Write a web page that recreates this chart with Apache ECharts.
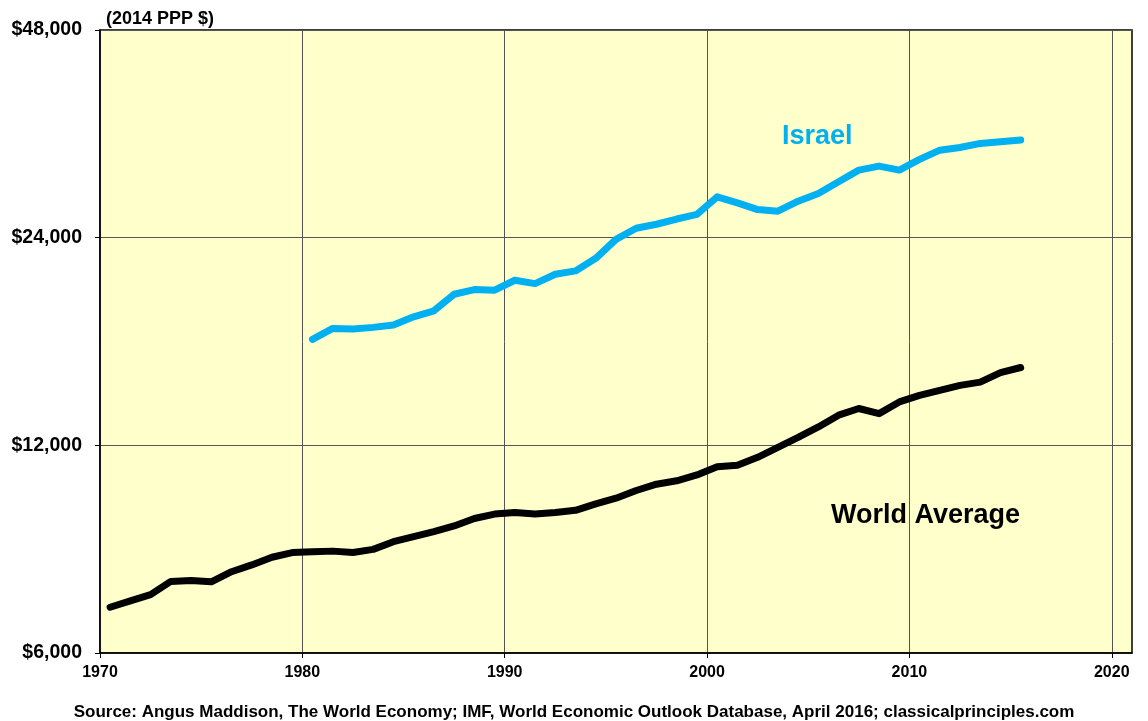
<!DOCTYPE html>
<html>
<head>
<meta charset="utf-8">
<script src="https://cdn.jsdelivr.net/npm/echarts@6/dist/echarts.min.js"></script>
<style>
  html, body { margin: 0; padding: 0; background: #fff; }
  #chart { width: 1148px; height: 721px; }
</style>
</head>
<body>
<div id="chart"></div>
<script>
// 年份（按年中绘制）
var worldYears = [1970, 1971, 1972, 1973, 1974, 1975, 1976, 1977, 1978, 1979,
  1980, 1981, 1982, 1983, 1984, 1985, 1986, 1987, 1988, 1989,
  1990, 1991, 1992, 1993, 1994, 1995, 1996, 1997, 1998, 1999,
  2000, 2001, 2002, 2003, 2004, 2005, 2006, 2007, 2008, 2009,
  2010, 2011, 2012, 2013, 2014, 2015]
var worldValues = [6990, 7140, 7290, 7620, 7640, 7610, 7870, 8050, 8260, 8390,
  8415, 8430, 8390, 8480, 8700, 8850, 9000, 9170, 9400, 9540,
  9590, 9540, 9590, 9660, 9870, 10060, 10320, 10540, 10660, 10870,
  11170, 11230, 11530, 11920, 12320, 12760, 13270, 13570, 13340, 13870,
  14180, 14420, 14660, 14820, 15300, 15560]

var israelYears = [1980, 1981, 1982, 1983, 1984, 1985, 1986, 1987, 1988, 1989,
  1990, 1991, 1992, 1993, 1994, 1995, 1996, 1997, 1998, 1999,
  2000, 2001, 2002, 2003, 2004, 2005, 2006, 2007, 2008, 2009,
  2010, 2011, 2012, 2013, 2014, 2015]
var israelValues = [17090, 17730, 17690, 17790, 17930, 18430, 18800, 19870, 20180, 20140,
  20820, 20590, 21240, 21480, 22400, 23860, 24770, 25100, 25540, 25940,
  27500, 26960, 26360, 26220, 27110, 27820, 28920, 30070, 30480, 30070,
  31170, 32140, 32430, 32870, 33050, 33240]

var yTicks = [6000, 12000, 24000, 48000]
var xTicks = [1970, 1980, 1990, 2000, 2010, 2020]

function pairs (years, values) {
  return years.map(function (y, i) { return [y + 0.5, values[i]] })
}

var font = 'Liberation Sans, Arial, sans-serif'
var myChart = echarts.init(document.getElementById('chart'), null, { renderer: 'canvas' })

myChart.setOption({
  animation: false,
  grid: {
    left: 100,
    right: 16,
    top: 30,
    bottom: 68,
    show: true,
    backgroundColor: '#ffffcc',
    borderColor: '#000',
    borderWidth: 1.5
  },
  title: [
    {
      text: '(2014 PPP $)',
      left: 101,
      top: 5,
      textStyle: { fontFamily: font, fontSize: 18, fontWeight: 'bold', color: '#000' }
    },
    {
      text: 'Source: Angus Maddison, The World Economy; IMF, World Economic Outlook Database, April 2016; classicalprinciples.com',
      left: 'center',
      top: 699,
      textStyle: { fontFamily: font, fontSize: 17, fontWeight: 'bold', color: '#000' }
    }
  ],
  xAxis: {
    type: 'value',
    min: 1970,
    max: 2021,
    axisLine: { show: true, onZero: false, lineStyle: { color: '#000', width: 1.5 } },
    axisTick: { show: true, length: 5, customValues: xTicks, lineStyle: { color: '#000' } },
    axisLabel: {
      customValues: xTicks,
      color: '#000',
      fontFamily: font,
      fontSize: 16,
      fontWeight: 'bold',
      margin: 12,
      formatter: function (v) { return String(v) }
    },
    splitLine: { show: true, lineStyle: { color: '#555', width: 1 } }
  },
  yAxis: {
    type: 'log',
    logBase: 2,
    min: 6000,
    max: 48000,
    axisLine: { show: true, lineStyle: { color: '#000', width: 1.5 } },
    axisTick: { show: true, length: 5, customValues: yTicks, lineStyle: { color: '#000' } },
    axisLabel: {
      customValues: yTicks,
      color: '#000',
      fontFamily: font,
      fontSize: 19.5,
      fontWeight: 'bold',
      margin: 18,
      formatter: function (v) {
        return '$' + Math.round(v).toLocaleString('en-US')
      }
    },
    splitLine: { show: true, lineStyle: { color: '#555', width: 1 } }
  },
  graphic: [
    {
      type: 'text',
      left: 782,
      top: 123,
      style: { text: 'Israel', fill: '#00b0f0', font: 'bold 27px ' + font }
    },
    {
      type: 'text',
      left: 831,
      top: 502,
      style: { text: 'World Average', fill: '#000', font: 'bold 27px ' + font }
    }
  ],
  series: [
    {
      name: 'Israel',
      type: 'line',
      data: pairs(israelYears, israelValues),
      showSymbol: false,
      lineStyle: { color: '#00b0f0', width: 7, cap: 'round', join: 'round' }
    },
    {
      name: 'World Average',
      type: 'line',
      data: pairs(worldYears, worldValues),
      showSymbol: false,
      lineStyle: { color: '#000', width: 7, cap: 'round', join: 'round' }
    }
  ]
})

window.onresize = function () {
  myChart.resize()
}
</script>
</body>
</html>
